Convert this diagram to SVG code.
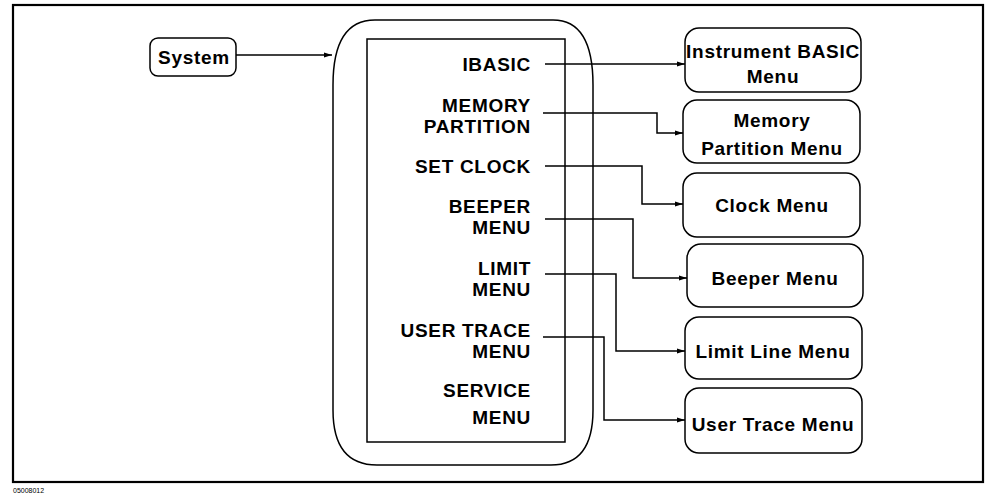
<svg xmlns="http://www.w3.org/2000/svg" width="985" height="495" viewBox="0 0 985 495">
<defs>
<style>
.t{font-family:"Liberation Sans",Arial,sans-serif;font-weight:bold;font-size:19px;letter-spacing:0.7px;fill:#000}
.r{text-anchor:end}
.c{text-anchor:middle}
.box{fill:#fff;stroke:#000;stroke-width:1.5}
.ln{fill:none;stroke:#000;stroke-width:1.5}
</style>
<marker id="ah" markerWidth="8" markerHeight="6" refX="8" refY="3" orient="auto" markerUnits="userSpaceOnUse">
<path d="M0,0.5 L8,3 L0,5.5 Z" fill="#000"/>
</marker>
</defs>
<rect width="985" height="495" fill="#fff"/>
<rect x="13" y="5" width="970" height="477" fill="none" stroke="#000" stroke-width="2.2"/>
<text x="13" y="493" font-family="Liberation Sans, Arial, sans-serif" font-size="7" fill="#000">05008012</text>

<g id="system">
<rect class="box" x="150" y="38" width="86" height="38" rx="8" ry="8"/>
<text class="t c" x="194" y="64">System</text>
</g>

<g id="menu">
<path class="ln" d="M375,20 L553,20 Q593,20 593,85 L593,410 Q593,465 551,465 L377,465 Q333,465 333,410 L333,85 Q333,20 375,20 Z"/>
<rect class="ln" x="367" y="39" width="198" height="403"/>
<text class="t r" x="531" y="71">IBASIC</text>
<text class="t r" x="531" y="112">MEMORY</text>
<text class="t r" x="531" y="133">PARTITION</text>
<text class="t r" x="531" y="173">SET CLOCK</text>
<text class="t r" x="531" y="213">BEEPER</text>
<text class="t r" x="531" y="234">MENU</text>
<text class="t r" x="531" y="275">LIMIT</text>
<text class="t r" x="531" y="296">MENU</text>
<text class="t r" x="531" y="337">USER TRACE</text>
<text class="t r" x="531" y="358">MENU</text>
<text class="t r" x="531" y="397">SERVICE</text>
<text class="t r" x="531" y="424">MENU</text>
</g>

<g id="ibasic-menu">
<rect class="box" x="685" y="28" width="176" height="64" rx="14" ry="14"/>
<text class="t c" x="773" y="58">Instrument BASIC</text>
<text class="t c" x="773" y="83">Menu</text>
</g>
<g id="memory-menu">
<rect class="box" x="683" y="100" width="177" height="63" rx="14" ry="14"/>
<text class="t c" x="772" y="127">Memory</text>
<text class="t c" x="772" y="155">Partition Menu</text>
</g>
<g id="clock-menu">
<rect class="box" x="683" y="173" width="177" height="64" rx="14" ry="14"/>
<text class="t c" x="772" y="212">Clock Menu</text>
</g>
<g id="beeper-menu">
<rect class="box" x="687" y="244" width="176" height="63" rx="14" ry="14"/>
<text class="t c" x="775" y="285">Beeper Menu</text>
</g>
<g id="limit-menu">
<rect class="box" x="685" y="317" width="177" height="62" rx="14" ry="14"/>
<text class="t c" x="773" y="358">Limit Line Menu</text>
</g>
<g id="usertrace-menu">
<rect class="box" x="685" y="388" width="177" height="65" rx="14" ry="14"/>
<text class="t c" x="773" y="431">User Trace Menu</text>
</g>

<g id="connectors">
<path class="ln" marker-end="url(#ah)" d="M236,55 L332,55"/>
<path class="ln" marker-end="url(#ah)" d="M545,64 L685,64"/>
<path class="ln" marker-end="url(#ah)" d="M543,113 L657,113 L657,133 L683,133"/>
<path class="ln" marker-end="url(#ah)" d="M545,166 L642,166 L642,204 L683,204"/>
<path class="ln" marker-end="url(#ah)" d="M545,219 L633,219 L633,278 L687,278"/>
<path class="ln" marker-end="url(#ah)" d="M545,274 L616,274 L616,351 L685,351"/>
<path class="ln" marker-end="url(#ah)" d="M543,337 L604,337 L604,420 L685,420"/>
</g>
</svg>
